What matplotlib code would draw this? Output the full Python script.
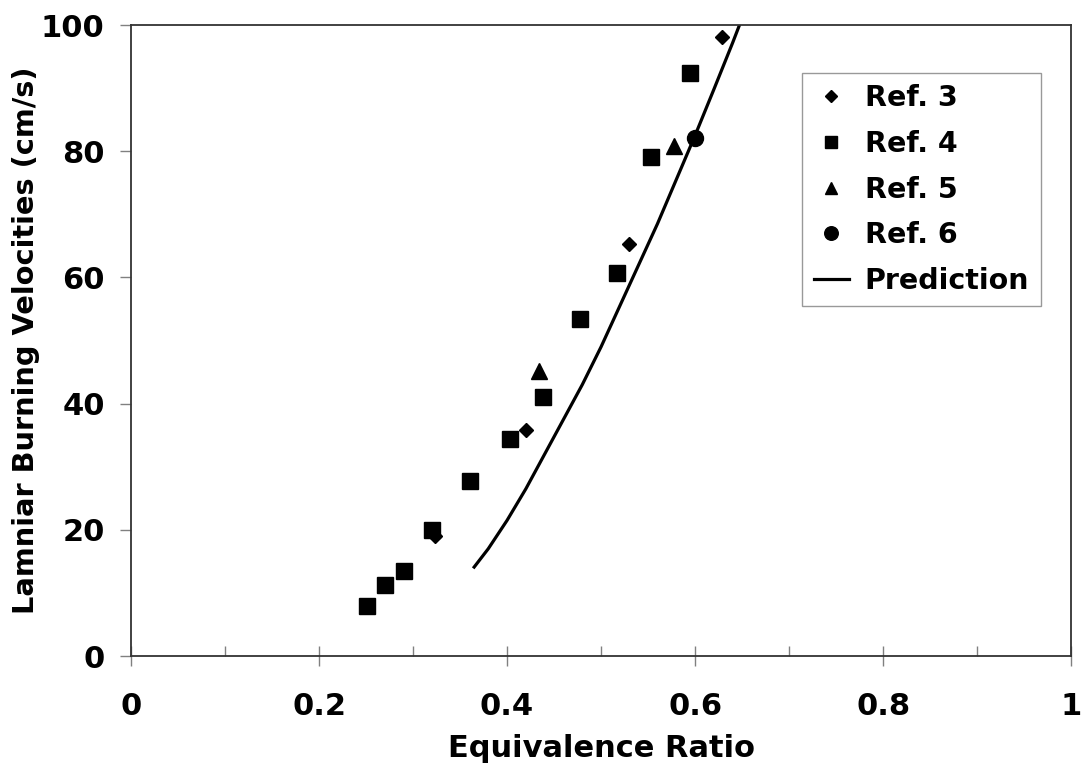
import matplotlib.pyplot as plt
from matplotlib.ticker import MultipleLocator

plt.rcParams['font.family'] = ['DejaVu Sans']
plt.rcParams['font.weight'] = 'bold'

# data
ref3_x = [0.323, 0.420, 0.530, 0.629]
ref3_y = [19.0, 35.8, 65.3, 98.1]

ref4_x = [0.251, 0.270, 0.290, 0.320, 0.361, 0.403, 0.438, 0.478, 0.517, 0.553, 0.595]
ref4_y = [7.9, 11.2, 13.5, 20.0, 27.7, 34.4, 41.0, 53.4, 60.7, 79.1, 92.4]

ref5_x = [0.434, 0.578]
ref5_y = [45.2, 80.8]

ref6_x = [0.600]
ref6_y = [82.1]

pred_x = [0.365, 0.38, 0.40, 0.42, 0.44, 0.46, 0.48, 0.50, 0.52, 0.54,
          0.56, 0.58, 0.60, 0.62, 0.64, 0.655]
pred_y = [14.1, 17.0, 21.5, 26.5, 32.0, 37.5, 43.0, 49.0, 55.5, 62.0,
          68.5, 75.5, 82.5, 89.8, 97.2, 103.0]

xticks = [0, 0.2, 0.4, 0.6, 0.8, 1]
xtick_labels = ['0', '0.2', '0.4', '0.6', '0.8', '1']
yticks = [0, 20, 40, 60, 80, 100]

fig = plt.figure(figsize=(10.83, 7.70), dpi=100)
ax = fig.add_axes([0.121, 0.148, 0.868, 0.8195])

ax.plot(ref3_x, ref3_y, 'D', color='black', ms=7.5, label='Ref. 3', clip_on=False)
ax.plot(ref4_x, ref4_y, 's', color='black', ms=11, label='Ref. 4')
ax.plot(ref5_x, ref5_y, '^', color='black', ms=11, label='Ref. 5')
ax.plot(ref6_x, ref6_y, 'o', color='black', ms=11.5, label='Ref. 6')
ax.plot(pred_x, pred_y, '-', color='black', lw=2.3, label='Prediction')

ax.set_xlim(0, 1)
ax.set_ylim(0, 100)
ax.set_xticks(xticks)
ax.set_xticklabels(xtick_labels)
ax.set_yticks(yticks)
ax.xaxis.set_minor_locator(MultipleLocator(0.1))

ax.tick_params(axis='x', which='major', direction='inout', length=14, width=1,
               color='#808080', pad=19, labelsize=22)
ax.tick_params(axis='x', which='minor', direction='in', length=7, width=1,
               color='#808080')
ax.tick_params(axis='y', which='major', direction='out', length=8, width=1,
               color='#808080', pad=11, labelsize=22)

for s in ax.spines.values():
    s.set_color('#333333')
    s.set_linewidth(1.3)

ax.set_xlabel('Equivalence Ratio', fontsize=22, fontweight='bold', labelpad=9)
ax.set_ylabel('Lamniar Burning Velocities (cm/s)', fontsize=20.8,
              fontweight='bold', labelpad=1)

leg = ax.legend(loc='upper left', bbox_to_anchor=(0.714, 0.924), borderaxespad=0,
                fontsize=20.5, frameon=True, fancybox=False, edgecolor='#808080',
                markerscale=0.85, handlelength=1.25, handletextpad=0.55,
                labelspacing=0.62, borderpad=0.4)
leg.get_frame().set_linewidth(1)

fig.savefig('out.png', dpi=100)
